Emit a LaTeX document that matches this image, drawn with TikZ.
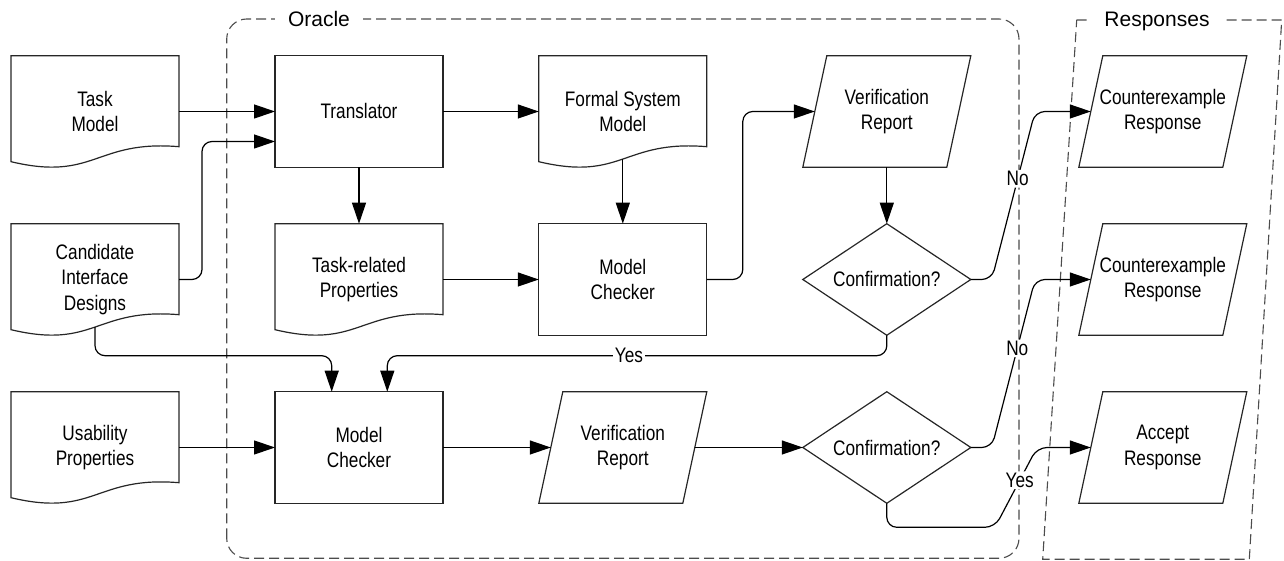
\documentclass[tikz,border=0pt]{standalone}
\usepackage{fontspec}
\setmainfont{Liberation Sans}
\newfontfamily\bodyfont{Liberation Sans}[FakeStretch=0.82]
\usetikzlibrary{arrows.meta,calc}
\begin{document}
\begin{tikzpicture}[x=1pt,y=1pt,
  shp/.style={draw=black!85, line width=1.2pt},
  lbl/.style={font=\bodyfont\fontsize{21}{25.5}\selectfont, align=center, inner sep=0pt, outer sep=0pt, minimum width=168pt, minimum height=111.6pt},
  plbl/.style={lbl, minimum width=144pt},
  conn/.style={draw=black, line width=1.2pt, -{Triangle[length=21pt,width=14pt]}, rounded corners=10pt},
  tag/.style={font=\bodyfont\fontsize{21}{25.5}\selectfont, fill=white, inner sep=1.5pt},
  grp/.style={draw=black!70, line width=1.1pt, dash pattern=on 10pt off 5pt},
  title/.style={font=\fontsize{21}{25}\selectfont, fill=white, inner xsep=13pt, inner ysep=2pt, anchor=base}
]
\useasboundingbox (0,0) rectangle (1284,561);

% groups
\draw[grp, rounded corners=20pt] (226.7,2.7) rectangle (1019,542);
\draw[grp] (1076.7,541) -- (1281.7,541) -- (1249.3,1.7) -- (1042.7,1.7) -- cycle;
\node[title] (oracle) at (319,534.3) {Oracle};
\node[title] (resp) at (1157,534.3) {Responses};

% nodes
\node[lbl] (task) at (95,449.5) {Task\\Model};
\node[lbl] (cand) at (95,281.5) {Candidate\\Interface\\Designs};
\node[lbl] (usab) at (95,113.5) {Usability\\Properties};
\node[lbl, shp] (trans) at (359,449.5) {Translator};
\node[lbl] (trp) at (359,281.5) {Task-related\\Properties};
\node[lbl, shp] (mc2) at (359,113.5) {Model\\Checker};
\node[lbl] (fsm) at (622.8,449.5) {Formal System\\Model};
\node[lbl, shp] (mc1) at (622.8,281.5) {Model\\Checker};
\node[plbl] (vr2) at (622.8,113.5) {Verification\\Report};
\node[plbl] (vr1) at (886.8,449.5) {Verification\\Report};
\node[lbl] (dec1) at (886.8,281.5) {Confirmation?};
\node[lbl] (dec2) at (886.8,113.5) {Confirmation?};
\node[plbl] (cr1) at (1162.8,449.5) {Counterexample\\Response};
\node[plbl] (cr2) at (1162.8,281.5) {Counterexample\\Response};
\node[plbl] (acc) at (1162.8,113.5) {Accept\\Response};

% outlines
\foreach \n in {task,cand,usab,trp,fsm}
  \draw[shp] (\n.north west) -- (\n.north east) -- ([yshift=-91pt]\n.north east)
    .. controls ([shift={(-84pt,-84pt)}]\n.north east) and ([shift={(84pt,-126pt)}]\n.north west)
    .. ([yshift=-106pt]\n.north west) -- cycle;
\foreach \n in {vr1,vr2,cr1,cr2,acc}
  \draw[shp] ([xshift=-12pt]\n.south west) -- ([xshift=12pt]\n.north west)
    -- ([xshift=12pt]\n.north east) -- ([xshift=-12pt]\n.south east) -- cycle;
\foreach \n in {dec1,dec2}
  \draw[shp] (\n.north) -- (\n.east) -- (\n.south) -- (\n.west) -- cycle;

% connectors
\draw[conn] (task.east) -- (trans.west);
\draw[conn] (cand.east) -- ++(23,0) |- ([yshift=-30pt]trans.west);
\draw[conn] ([yshift=8.2pt]cand.south) |- ([xshift=-27.3pt,yshift=36pt]mc2.north) -- ([xshift=-27.3pt]mc2.north);
\draw[conn] (dec1.south) |- ([xshift=28.3pt,yshift=36pt]mc2.north) -- ([xshift=28.3pt]mc2.north);
\draw[conn] (trans.east) -- (fsm.west);
\draw[conn] (trans.south) -- (trp.north);
\draw[conn] ([yshift=8.2pt]fsm.south) -- (mc1.north);
\draw[conn] (trp.east) -- (mc1.west);
\draw[conn] (mc1.east) -- ++(36,0) |- (vr1.west);
\draw[conn] (vr1.south) -- (dec1.north);
\draw[conn] (usab.east) -- (mc2.west);
\draw[conn] (mc2.east) -- (vr2.west);
\draw[conn] (vr2.east) -- (dec2.west);
\draw[conn] (dec1.east) -- ++(21,0) -- node[tag, pos=0.6] (no1) {No} ([xshift=-55.8pt]cr1.west) -- (cr1.west);
\draw[conn] (dec2.east) -- ++(21,0) -- node[tag, pos=0.59] (no2) {No} ([xshift=-55.8pt]cr2.west) -- (cr2.west);
\draw[conn] (dec2.south) -- ++(0,-24) -- ++(108.2,0) -- node[tag, pos=0.59] (yes2) {Yes} ([xshift=-53.8pt]acc.west) -- (acc.west);
\node[tag] (yes1) at (629,205.3) {Yes};
\end{tikzpicture}
\end{document}
